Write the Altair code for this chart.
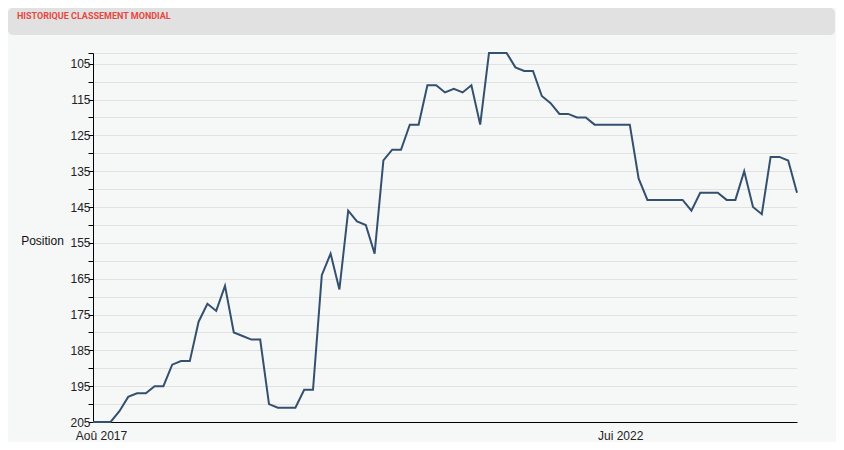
import altair as alt
import pandas as pd

# Ranking history (one value per ranking release, evenly spaced on the axis)
ranks = [205, 205, 205, 202, 198, 197, 197, 195, 195, 189, 188, 188, 177, 172, 174, 167, 180, 181, 182, 182,
         200, 201, 201, 201, 196, 196, 164, 158, 168, 146, 149, 150, 158, 132, 129, 129, 122, 122, 111, 111,
         113, 112, 113, 111, 122, 102, 102, 102, 106, 107, 107, 114, 116, 119, 119, 120, 120, 122, 122, 122,
         122, 122, 137, 143, 143, 143, 143, 143, 146, 141, 141, 141, 143, 143, 135, 145, 147, 131, 131, 132, 141]
release_index = list(range(len(ranks)))

x_tick_positions = [0, 59]
x_tick_labels = ["Aoû 2017", "Jui 2022"]

y_ticks = [102] + list(range(105, 206, 5))
y_labelled_start = 105

title_text = "HISTORIQUE CLASSEMENT MONDIAL"
axis_title = "Position"

df = pd.DataFrame({"idx": release_index, "rank": ranks})

x_label_expr = " : ".join(
    [f"datum.value == {p} ? '{l}'" for p, l in zip(x_tick_positions, x_tick_labels)]
) + " : ''"
y_label_expr = f"(datum.value - {y_labelled_start}) % 10 == 0 ? datum.value : ''"

FONT = "Liberation Sans"

line = alt.Chart(df).mark_line(color="#34506f", strokeWidth=2).encode(
    x=alt.X(
        "idx:Q",
        scale=alt.Scale(domain=[0, len(ranks) - 1], nice=False, zero=False),
        axis=alt.Axis(
            values=x_tick_positions, labelExpr=x_label_expr, title=None, grid=False,
            ticks=False, tickSize=0, domainColor="#000000", domainWidth=1,
            labelFont=FONT, labelFontSize=12, labelColor="#222222",
            labelPadding=8, labelOffset=8, labelFlush=False, labelOverlap=False,
        ),
    ),
    y=alt.Y(
        "rank:Q",
        scale=alt.Scale(domain=[102, 205], reverse=True, nice=False, zero=False),
        axis=alt.Axis(
            values=y_ticks, labelExpr=y_label_expr, title=axis_title,
            titleAngle=0, titleX=-51, titleY=187, titleAlign="center",
            titleBaseline="middle", titleFont=FONT, titleFontSize=12,
            titleFontWeight="normal", titleColor="#111111",
            tickSize=5, tickColor="#000000", domainColor="#000000",
            gridColor="#e2e2e2", gridWidth=1,
            labelFont=FONT, labelFontSize=12, labelColor="#222222",
            labelPadding=-2, labelOverlap=False, labelFlush=False,
        ),
    ),
)

header = alt.Chart(pd.DataFrame({"t": [title_text]})).mark_rect(
    color="#e1e1e1", cornerRadius=5
).encode(
    x=alt.value(-85), x2=alt.value(742), y=alt.value(-45), y2=alt.value(-18)
)

title = alt.Chart(pd.DataFrame({"t": [title_text]})).mark_text(
    align="left", baseline="middle", font="Roboto", fontSize=9,
    fontWeight="bold", color="#e8473f"
).encode(text="t:N", x=alt.value(-76), y=alt.value(-37))

chart = alt.layer(header, title, line).properties(
    width=704, height=369,
    autosize=alt.AutoSizeParams(type="none"),
    padding={"left": 85, "top": 45, "right": 39, "bottom": 20},
    background="#f6f7f7",
).configure_view(stroke=None)

chart.save("out.html", embed_options={"renderer": "svg", "actions": False})
